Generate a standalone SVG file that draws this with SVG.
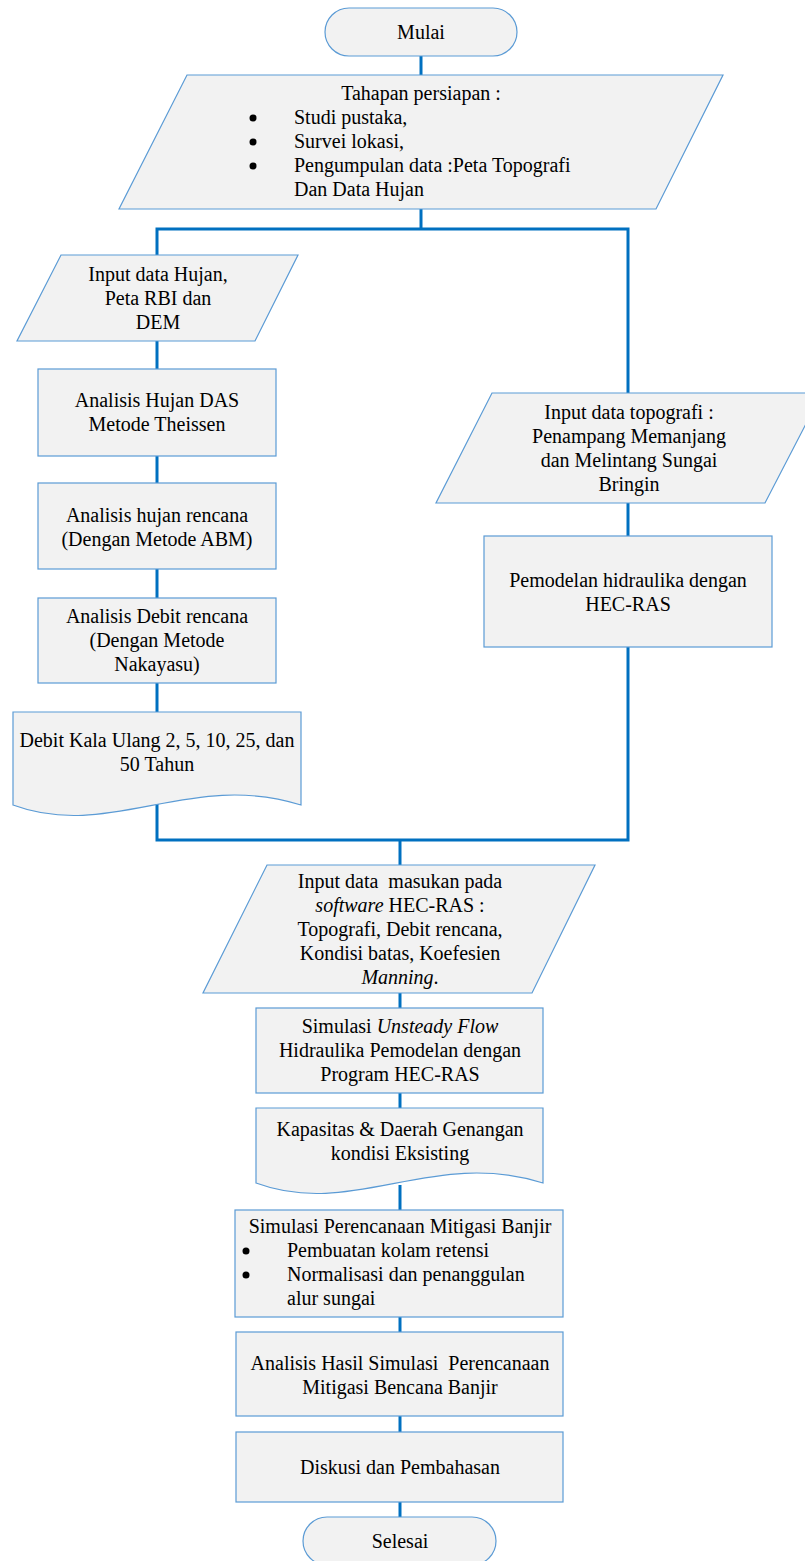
<svg xmlns="http://www.w3.org/2000/svg" width="805" height="1561" viewBox="0 0 805 1561">
<style>
.shape{fill:#f2f2f2;stroke:#5b9bd5;stroke-width:1.2}
.conn{fill:none;stroke:#0070c0;stroke-width:3;stroke-linejoin:miter;stroke-linecap:butt}
text{font-family:"Liberation Serif","Times New Roman",serif;font-size:20px;fill:#000;white-space:pre}
.c{text-anchor:middle}
.b{fill:#000}
</style>
<rect width="805" height="1561" fill="#fff"/>
<g id="connectors">
<path class="conn" d="M421,56 V75"/>
<path class="conn" d="M421,209 V229"/>
<path class="conn" d="M157,255 V229 H628 V393"/>
<path class="conn" d="M157,341 V369"/>
<path class="conn" d="M157,456 V483"/>
<path class="conn" d="M157,569 V598"/>
<path class="conn" d="M157,683 V712"/>
<path class="conn" d="M628,503 V536"/>
<path class="conn" d="M157,800 V840 H628 V647"/>
<path class="conn" d="M400,840 V865"/>
<path class="conn" d="M400,993 V1008"/>
<path class="conn" d="M400,1093 V1108"/>
<path class="conn" d="M400,1185 V1210"/>
<path class="conn" d="M400,1317 V1332"/>
<path class="conn" d="M400,1416 V1432"/>
<path class="conn" d="M400,1502 V1517"/>
</g>
<g id="mulai">
<rect class="shape" x="325" y="8" width="192" height="48" rx="24"/>
<text class="c" x="421" y="39">Mulai</text>
</g>
<g id="persiapan">
<polygon class="shape" points="187,75 723,75 656,209 119,209"/>
<text class="c" x="421" y="100">Tahapan persiapan :</text>
<circle class="b" cx="253" cy="118" r="3.5"/>
<circle class="b" cx="253" cy="142" r="3.5"/>
<circle class="b" cx="253" cy="166" r="3.5"/>
<text x="294" y="124">Studi pustaka,</text>
<text x="294" y="148">Survei lokasi,</text>
<text x="294" y="172">Pengumpulan data :Peta Topografi</text>
<text x="294" y="196">Dan Data Hujan</text>
</g>
<g id="input-hujan">
<polygon class="shape" points="61,255 298,255 255,341 17,341"/>
<text class="c" x="158" y="281">Input data Hujan,</text>
<text class="c" x="158" y="305">Peta RBI dan</text>
<text class="c" x="158" y="329">DEM</text>
</g>
<g id="analisis-das">
<rect class="shape" x="38" y="369" width="238" height="87"/>
<text class="c" x="157" y="407">Analisis Hujan DAS</text>
<text class="c" x="157" y="431">Metode Theissen</text>
</g>
<g id="hujan-rencana">
<rect class="shape" x="38" y="483" width="238" height="86"/>
<text class="c" x="157" y="522">Analisis hujan rencana</text>
<text class="c" x="157" y="546">(Dengan Metode ABM)</text>
</g>
<g id="debit-rencana">
<rect class="shape" x="38" y="598" width="238" height="85"/>
<text class="c" x="157" y="623">Analisis Debit rencana</text>
<text class="c" x="157" y="647">(Dengan Metode</text>
<text class="c" x="157" y="671">Nakayasu)</text>
</g>
<g id="debit-kala">
<path class="shape" d="M13,712 H301 V805 C190,770 110,841 13,805 Z"/>
<text class="c" x="157" y="747">Debit Kala Ulang 2, 5, 10, 25, dan</text>
<text class="c" x="157" y="771">50 Tahun</text>
</g>
<g id="input-topografi">
<polygon class="shape" points="492,393 822,393 765,503 436,503"/>
<text class="c" x="629" y="419">Input data topografi :</text>
<text class="c" x="629" y="443">Penampang Memanjang</text>
<text class="c" x="629" y="467">dan Melintang Sungai</text>
<text class="c" x="629" y="491">Bringin</text>
</g>
<g id="pemodelan">
<rect class="shape" x="484" y="536" width="288" height="111"/>
<text class="c" x="628" y="587">Pemodelan hidraulika dengan</text>
<text class="c" x="628" y="611">HEC-RAS</text>
</g>
<g id="input-hecras">
<polygon class="shape" points="267,865 595,865 532,993 203,993"/>
<text class="c" x="400" y="888">Input data  masukan pada</text>
<text class="c" x="400" y="912"><tspan font-style="italic">software</tspan> HEC-RAS :</text>
<text class="c" x="400" y="936">Topografi, Debit rencana,</text>
<text class="c" x="400" y="960">Kondisi batas, Koefesien</text>
<text class="c" x="400" y="984"><tspan font-style="italic">Manning</tspan>.</text>
</g>
<g id="simulasi-unsteady">
<rect class="shape" x="256" y="1008" width="287" height="85"/>
<text class="c" x="400" y="1033">Simulasi <tspan font-style="italic">Unsteady Flow</tspan></text>
<text class="c" x="400" y="1057">Hidraulika Pemodelan dengan</text>
<text class="c" x="400" y="1081">Program HEC-RAS</text>
</g>
<g id="kapasitas">
<path class="shape" d="M256,1108 H543 V1183 C432,1148 353,1219 256,1183 Z"/>
<text class="c" x="400" y="1136">Kapasitas &amp; Daerah Genangan</text>
<text class="c" x="400" y="1160">kondisi Eksisting</text>
</g>
<g id="mitigasi">
<rect class="shape" x="235" y="1210" width="328" height="107"/>
<text class="c" x="400" y="1233">Simulasi Perencanaan Mitigasi Banjir</text>
<circle class="b" cx="246" cy="1251" r="3.5"/>
<circle class="b" cx="246" cy="1275" r="3.5"/>
<text x="287" y="1257">Pembuatan kolam retensi</text>
<text x="287" y="1281">Normalisasi dan penanggulan</text>
<text x="287" y="1305">alur sungai</text>
</g>
<g id="analisis-hasil">
<rect class="shape" x="236" y="1332" width="327" height="84"/>
<text class="c" x="400" y="1370">Analisis Hasil Simulasi  Perencanaan</text>
<text class="c" x="400" y="1394">Mitigasi Bencana Banjir</text>
</g>
<g id="diskusi">
<rect class="shape" x="236" y="1432" width="327" height="70"/>
<text class="c" x="400" y="1474">Diskusi dan Pembahasan</text>
</g>
<g id="selesai">
<rect class="shape" x="303" y="1517" width="193" height="48" rx="24"/>
<text class="c" x="400" y="1548">Selesai</text>
</g>
</svg>
